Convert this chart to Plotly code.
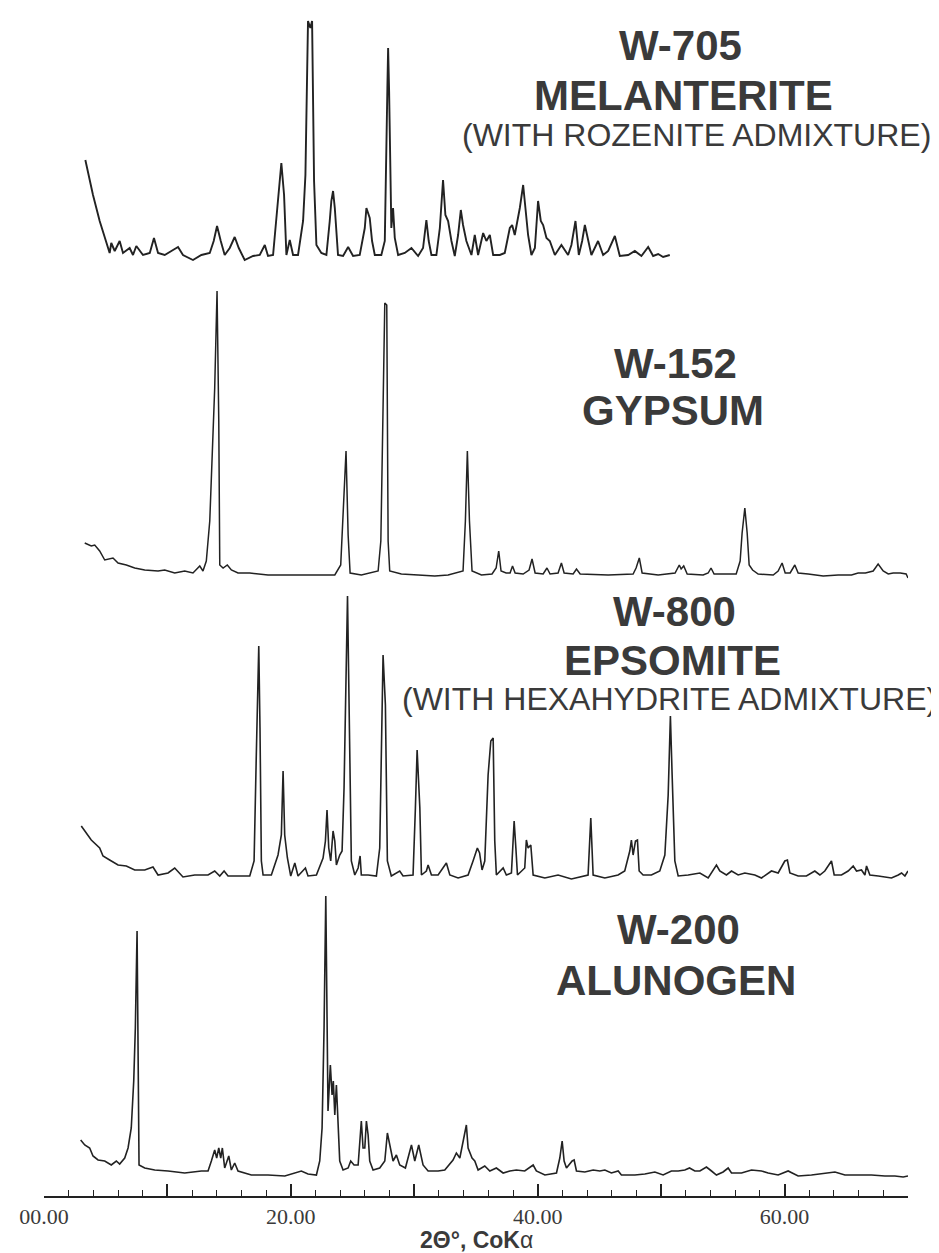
"""Stacked XRD patterns of sulfate minerals (CoKa)."""

import plotly.graph_objects as go

# --- data (2theta in degrees, intensity in arbitrary units above baseline) ---
melanterite_2theta = [
    3.35, 3.97, 4.51, 4.92, 5.32, 5.45, 5.73, 6.13, 6.40, 6.94, 7.21, 7.48, 8.02, 8.57, 8.91, 9.24,
    9.78, 10.32, 10.86, 11.26, 12.07, 12.75, 13.43, 13.75, 14.02, 14.32, 14.64, 15.05, 15.45, 15.78,
    16.26, 16.94, 17.48, 17.89, 18.15, 18.56, 18.82, 19.23, 19.45, 19.64, 19.91, 20.18, 20.58, 20.99,
    21.18, 21.39, 21.58, 21.72, 21.88, 22.07, 22.47, 22.88, 23.15, 23.28, 23.42, 23.56, 23.82, 24.23,
    24.64, 25.04, 25.58, 25.99, 26.12, 26.39, 26.58, 26.80, 27.33, 27.61, 27.82, 27.88, 27.96, 28.04,
    28.14, 28.28, 28.42, 28.69, 29.23, 29.77, 30.31, 30.71, 30.98, 31.17, 31.39, 31.79, 32.07, 32.33,
    32.52, 32.74, 33.01, 33.28, 33.55, 33.77, 33.95, 34.22, 34.63, 34.90, 35.17, 35.58, 35.84, 36.12,
    36.39, 36.93, 37.33, 37.74, 37.93, 38.14, 38.55, 38.82, 39.00, 39.22, 39.49, 39.77, 40.03, 40.25,
    40.44, 40.71, 40.98, 41.39, 41.92, 42.46, 42.73, 43.06, 43.33, 43.60, 43.82, 44.08, 44.35, 44.89,
    45.30, 45.71, 46.25, 46.65, 47.33, 47.87, 48.40, 48.95, 49.35, 49.76, 50.16, 50.70,
]
melanterite_int = [
    93, 58, 32, 15, 0, 10, 2, 12, 0, 5, -2, 7, -2, 0, 15, 0,
    -2, 2, 6, -2, -7, -2, 0, 12, 27, 12, -2, 5, 16, 5,
    -7, -3, -2, 8, -3, -2, 32, 90, 58, -2, 13, -2, -2, 32,
    78, 232, 225, 232, 72, 8, 0, -2, 32, 52, 62, 45, -2, -3,
    6, -3, -2, 25, 45, 35, 12, -2, -2, 12, 165, 205, 162, 95,
    25, 45, 15, -2, 0, 5, -3, 5, 33, 12, -2, -2, 25, 73,
    38, 32, 12, -3, 18, 43, 28, 12, -2, 18, -2, 20, 12, 18,
    -2, -2, 0, 25, 28, 18, 45, 68, 45, 18, -2, 5, 52, 32,
    28, 15, 12, -2, 8, -2, 8, 32, -2, 12, 28, 12, -2, 12,
    -2, 2, 17, -3, -2, 2, -3, 6, -3, -1, -4, -2,
]

gypsum_2theta = [
    3.30, 3.83, 4.11, 4.51, 4.92, 5.59, 6.00, 6.67, 7.35, 8.16, 9.24, 9.78, 10.59, 11.40, 12.07, 12.62,
    12.88, 13.15, 13.43, 13.61, 13.83, 14.02, 14.16, 14.24, 14.51, 14.85, 15.18, 15.72, 16.67, 18.15,
    19.77, 21.94, 23.56, 24.04, 24.31, 24.47, 24.64, 24.80, 25.71, 27.07, 27.29, 27.47, 27.61, 27.77,
    27.88, 28.01, 28.95, 30.31, 31.66, 32.74, 33.95, 34.14, 34.30, 34.47, 34.68, 35.44, 36.30, 36.63,
    36.84, 37.03, 37.44, 37.76, 37.96, 38.17, 38.82, 39.30, 39.54, 39.79, 40.44, 40.75, 41.00, 41.65,
    41.92, 42.14, 42.87, 43.14, 43.44, 45.71, 47.73, 47.97, 48.23, 48.46, 49.76, 51.13, 51.47, 51.62,
    51.83, 52.11, 53.40, 53.81, 54.04, 54.29, 56.08, 56.40, 56.56, 56.78, 56.97, 57.13, 57.41, 57.86,
    59.08, 59.48, 59.80, 60.05, 60.45, 60.83, 61.10, 61.91, 63.13, 64.34, 65.42, 65.96, 66.55, 67.18,
    67.58, 67.99, 68.40, 68.80, 69.38, 69.85, 70.00,
]
gypsum_int = [
    30, 27, 28, 22, 13, 15, 10, 8, 5, 3, 2, 3, 0, 2, 0, 7,
    2, 12, 52, 112, 185, 282, 152, 8, 5, 8, 3, 0, 0, -2,
    -2, -2, -2, 8, 78, 122, 38, 0, -2, 2, 32, 185, 270, 268,
    32, 2, -1, -2, -3, -2, 2, 52, 122, 52, 2, -2, -1, 5,
    22, 2, 0, 0, 7, 0, -1, 3, 14, 0, -1, 5, -1, 0,
    10, 0, -1, 4, -1, -2, -1, 5, 15, 0, -2, 0, 8, 4,
    7, -1, -2, 0, 5, -1, -1, 12, 40, 65, 40, 8, 3, -1,
    -2, 2, 10, 0, 0, 8, 0, -1, -3, -2, -2, 0, 0, 2,
    9, 2, -1, 0, 0, -1, -5,
]

epsomite_2theta = [
    3.02, 3.30, 3.83, 4.51, 4.78, 5.32, 6.00, 6.67, 7.35, 8.16, 8.83, 9.24, 10.05, 10.59, 11.26, 12.21,
    13.29, 13.83, 14.24, 14.59, 14.91, 16.67, 17.02, 17.20, 17.40, 17.50, 17.61, 17.75, 18.42, 18.96,
    19.23, 19.37, 19.50, 19.72, 19.99, 20.32, 20.58, 21.18, 21.39, 22.07, 22.61, 22.80, 22.93, 23.07,
    23.23, 23.42, 23.56, 23.69, 23.96, 24.15, 24.31, 24.59, 24.77, 24.90, 25.18, 25.45, 25.61, 25.71,
    26.26, 26.93, 27.20, 27.47, 27.66, 27.82, 28.14, 28.82, 29.09, 29.90, 30.09, 30.23, 30.45, 30.58,
    30.98, 31.12, 31.39, 31.93, 32.60, 32.88, 33.55, 34.36, 34.76, 35.11, 35.29, 35.49, 35.71, 35.98,
    36.20, 36.39, 36.52, 36.65, 37.20, 37.46, 37.87, 38.09, 38.23, 38.36, 38.95, 39.08, 39.22, 39.44,
    39.63, 40.58, 41.65, 42.73, 44.08, 44.30, 44.49, 45.44, 46.51, 47.05, 47.46, 47.59, 47.73, 47.92,
    48.08, 48.22, 48.54, 49.21, 49.89, 50.30, 50.57, 50.75, 50.89, 51.11, 51.38, 52.19, 53.14, 53.81,
    54.48, 54.75, 55.29, 55.70, 56.24, 56.78, 57.59, 58.13, 58.94, 59.48, 60.02, 60.23, 60.43, 61.10,
    61.77, 62.45, 62.86, 63.26, 63.80, 64.02, 64.61, 65.15, 65.56, 65.83, 66.23, 66.51, 66.64, 66.91,
    67.59, 68.66, 69.21, 69.48, 69.75, 70.00,
]
epsomite_int = [
    52, 47, 38, 30, 22, 18, 13, 12, 8, 8, 11, 3, 5, 10, 1, 3,
    3, 7, 2, 7, 2, 2, 17, 123, 232, 150, 17, 3, 3, 23,
    43, 107, 43, 20, 2, 15, 2, 10, 2, 3, 20, 37, 68, 30,
    17, 47, 37, 13, 23, 27, 90, 282, 103, 17, 3, 10, 22, 3,
    3, 2, 30, 223, 173, 17, 2, 7, 2, 3, 70, 128, 70, 3,
    7, 13, 3, 3, 15, 3, 0, 3, 17, 30, 25, 8, 17, 103,
    137, 140, 37, 3, 10, 3, 5, 57, 30, 3, 10, 38, 30, 33,
    3, 0, 3, -1, 3, 60, 3, 0, 3, 7, 27, 38, 23, 37,
    38, 7, 3, 3, 7, 23, 83, 162, 103, 17, 2, 3, 5, 0,
    13, 7, 3, 7, 3, 5, 3, 0, 7, 5, 17, 18, 5, 2,
    2, 7, 3, 7, 17, 3, 3, 7, 12, 7, 8, 3, 12, 3,
    2, 0, 3, 5, 2, 7,
]

alunogen_2theta = [
    2.97, 3.30, 3.70, 3.97, 4.38, 4.92, 5.45, 5.86, 6.13, 6.54, 6.81, 7.07, 7.27, 7.40, 7.54, 7.62,
    7.70, 8.16, 8.97, 10.05, 11.40, 12.75, 13.29, 13.56, 13.83, 13.99, 14.16, 14.32, 14.45, 14.64,
    14.97, 15.18, 15.45, 15.72, 16.80, 18.15, 19.51, 20.85, 21.39, 22.07, 22.34, 22.53, 22.69, 22.83,
    22.93, 23.01, 23.20, 23.34, 23.44, 23.56, 23.69, 23.82, 23.96, 24.23, 24.64, 24.85, 25.12, 25.45,
    25.71, 25.85, 25.99, 26.12, 26.26, 26.39, 26.66, 27.20, 27.61, 27.82, 28.01, 28.28, 28.55, 28.82,
    29.28, 29.77, 30.04, 30.36, 30.71, 31.12, 31.93, 32.47, 33.14, 33.41, 33.69, 34.22, 34.36, 34.68,
    34.90, 35.17, 35.71, 36.12, 36.65, 37.20, 37.74, 38.27, 38.95, 39.63, 39.89, 40.58, 41.52, 41.79,
    41.98, 42.14, 42.33, 42.79, 42.95, 43.14, 43.82, 44.49, 45.03, 45.44, 45.97, 46.52, 46.78, 47.87,
    48.68, 49.49, 50.16, 50.83, 51.38, 51.92, 52.30, 52.73, 53.14, 53.67, 54.08, 54.48, 55.02, 55.43,
    55.70, 56.51, 57.32, 58.13, 58.67, 59.48, 60.29, 61.10, 62.18, 63.27, 64.08, 64.89, 65.96, 67.04,
    68.13, 68.94, 69.61, 70.00,
]
alunogen_int = [
    33, 28, 25, 17, 13, 12, 8, 12, 9, 15, 25, 45, 92, 145, 242, 55,
    8, 5, 3, 2, 0, 2, 2, 12, 23, 15, 25, 15, 25, 5,
    17, 3, 10, 2, -2, -2, -3, 2, -1, -2, 12, 45, 145, 277,
    145, 62, 108, 78, 92, 58, 88, 45, 12, 3, 5, 12, 8, 8,
    52, 25, 25, 52, 38, 12, 3, 5, 12, 40, 28, 12, 18, 8,
    5, 28, 12, 28, 8, 2, 2, 3, 13, 20, 15, 48, 25, 15,
    12, 3, 7, 2, 5, 0, 2, 3, 2, 8, 2, -2, 0, 15,
    32, 12, 5, 12, 13, 2, 1, 3, 2, 3, 0, 2, -2, -2,
    -1, 1, -2, 2, 2, 3, 5, 2, 2, 6, 2, -2, 1, 5,
    0, 0, 3, 2, 0, -2, 2, -3, -2, 0, 1, -2, -2, -2,
    -3, -3, -4, -3,
]

tick_vals = [0, 10, 20, 30, 40, 50, 60, 70]
tick_text = ["00.00", "", "20.00", "", "40.00", "", "60.00", ""]

LINE = "#222222"
TEXT = "#3a3a3a"

# vertical stacking of the patterns (baseline of each trace)
patterns = [
    ("W-705", melanterite_2theta, melanterite_int, 943, 1.9),
    ("W-152", gypsum_2theta, gypsum_int, 623, 1.5),
    ("W-800", epsomite_2theta, epsomite_int, 318, 1.6),
    ("W-200", alunogen_2theta, alunogen_int, 23, 1.6),
]

fig = go.Figure()
for name, xs, ys, base, lw in patterns:
    fig.add_trace(
        go.Scatter(
            x=xs,
            y=[v + base for v in ys],
            mode="lines",
            name=name,
            line=dict(color=LINE, width=lw),
            hoverinfo="skip",
        )
    )

bold = dict(family="Liberation Sans", size=42, color=TEXT)
thin = dict(family="Liberation Sans", size=32, color=TEXT)
labels = [
    ("<b>W-705</b>", 51.6, 1151, bold),
    ("<b>MELANTERITE</b>", 51.8, 1101, bold),
    ("(WITH ROZENITE ADMIXTURE)", 52.9, 1061, thin),
    ("<b>W-152</b>", 51.2, 833, bold),
    ("<b>GYPSUM</b>", 51.0, 786, bold),
    ("<b>W-800</b>", 51.1, 585, bold),
    ("<b>EPSOMITE</b>", 50.9, 536, bold),
    ("(WITH HEXAHYDRITE ADMIXTURE)", 50.7, 497, thin),
    ("<b>W-200</b>", 51.4, 267, bold),
    ("<b>ALUNOGEN</b>", 51.2, 216, bold),
]
for text, x, y, font in labels:
    fig.add_annotation(x=x, y=y, xref="x", yref="y", text=text, showarrow=False,
                       font=font, xanchor="center", yanchor="middle")

fig.add_annotation(
    x=0.5, y=-0.037, xref="paper", yref="paper", showarrow=False,
    text="<b>2\u0398\u00b0, CoK</b>\u03b1", xanchor="center", yanchor="middle",
    font=dict(family="Liberation Sans", size=23, color=TEXT),
)

fig.update_layout(
    width=939,
    height=1253,
    margin=dict(l=36, r=39, t=0, b=65),
    paper_bgcolor="white",
    plot_bgcolor="white",
    showlegend=False,
    xaxis=dict(
        range=[0, 70],
        showgrid=False,
        zeroline=False,
        showline=True,
        linecolor=LINE,
        linewidth=1.5,
        ticks="inside",
        ticklen=12,
        tickwidth=1.5,
        tickcolor=LINE,
        tickmode="array",
        tickvals=tick_vals,
        ticktext=tick_text,
        tickfont=dict(family="Liberation Serif", size=22, color=TEXT),
        minor=dict(ticks="inside", dtick=2, ticklen=6, tickwidth=1.2, tickcolor=LINE, showgrid=False),
    ),
    yaxis=dict(range=[0, 1188], visible=False),
)

fig.write_html("out.html")
